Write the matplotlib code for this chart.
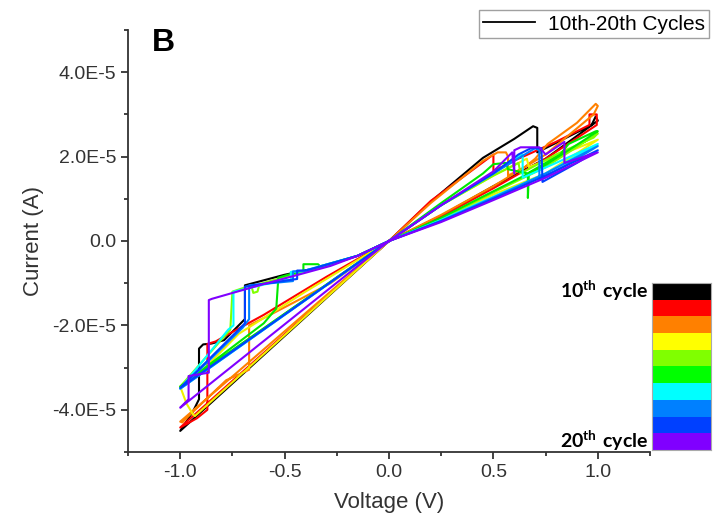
import matplotlib
matplotlib.use("Agg")
import matplotlib.pyplot as plt
from matplotlib.lines import Line2D
from matplotlib.colors import ListedColormap
from matplotlib.ticker import MultipleLocator, FuncFormatter
import numpy as np

plt.rcParams['font.family'] = ['Liberation Sans', 'DejaVu Sans']
plt.rcParams['mathtext.fontset'] = 'custom'
plt.rcParams['mathtext.bf'] = 'Lato:bold'
plt.rcParams['mathtext.rm'] = 'Lato'

# one colour per cycle, 10th (black) -> 20th (violet)
cycle_colors = ['#000000', '#ff0000', '#ff8000', '#f0f000', '#80ff00',
                '#00e800', '#00ffff', '#0080ff', '#0040ff', '#8000ff']
key_colors = ['#000000', '#ff0000', '#ff8000', '#ffff00', '#80ff00',
              '#00ff00', '#00ffff', '#0080ff', '#0040ff', '#8000ff']

# current values are in units of 1e-5 A
i_scale = 1e-5

# positive half: 0 -> +1 V (reset step) and back to 0
pos_v = [
    [0, 0.2, 0.45, 0.6, 0.69, 0.71, 0.71, 0.85, 0.97, 0.99, 1.0, 0.75, 0.5, 0.25, 0],
    [0, 0.2, 0.5, 0.5, 0.62, 0.8, 0.96, 0.96, 0.995, 0.995, 0.75, 0.5, 0.25, 0],
    [0, 0.2, 0.45, 0.52, 0.56, 0.57, 0.57, 0.65, 0.7, 0.76, 0.9, 0.97, 0.99, 1.0, 0.98, 0.75, 0.5, 0.25, 0],
    [0, 0.25, 0.5, 0.66, 0.67, 0.85, 1.0, 0.75, 0.5, 0.25, 0],
    [0, 0.25, 0.5, 0.62, 0.63, 0.8, 0.98, 1.0, 0.75, 0.5, 0.25, 0],
    [0, 0.25, 0.45, 0.5, 0.56, 0.57, 0.665, 0.665, 0.67, 0.82, 0.86, 0.99, 1.0, 0.75, 0.5, 0.25, 0],
    [0, 0.25, 0.5, 0.6, 0.64, 0.64, 0.8, 1.0, 0.75, 0.5, 0.25, 0],
    [0, 0.25, 0.5, 0.65, 0.7, 0.72, 0.72, 0.85, 1.0, 0.75, 0.5, 0.25, 0],
    [0, 0.25, 0.5, 0.62, 0.68, 0.73, 0.735, 0.9, 1.0, 0.75, 0.5, 0.25, 0],
    [0, 0.25, 0.5, 0.59, 0.6, 0.6, 0.63, 0.72, 0.75, 0.84, 0.84, 1.0, 0.75, 0.5, 0.25, 0],
]
pos_i = [
    [0, 0.93, 1.97, 2.42, 2.72, 2.68, 2.1, 2.45, 2.75, 2.95, 2.85, 1.95, 1.3, 0.6, 0],
    [0, 0.95, 2.05, 1.66, 1.95, 2.35, 2.75, 3.0, 3.0, 2.75, 1.95, 1.25, 0.58, 0],
    [0, 0.9, 1.9, 2.1, 2.1, 2.0, 1.55, 1.75, 1.95, 2.3, 2.8, 3.15, 3.25, 3.2, 3.0, 2.05, 1.3, 0.62, 0],
    [0, 0.85, 1.55, 1.95, 1.75, 2.1, 2.4, 1.6, 1.1, 0.5, 0],
    [0, 0.85, 1.55, 1.85, 1.6, 2.05, 2.45, 2.55, 1.75, 1.15, 0.52, 0],
    [0, 0.9, 1.6, 1.82, 1.85, 1.7, 1.6, 1.02, 1.62, 2.05, 2.3, 2.6, 2.6, 1.8, 1.18, 0.55, 0],
    [0, 0.85, 1.6, 1.95, 2.05, 1.5, 1.85, 2.3, 1.6, 1.05, 0.5, 0],
    [0, 0.85, 1.6, 2.05, 2.2, 2.15, 1.45, 1.8, 2.25, 1.6, 1.03, 0.48, 0],
    [0, 0.85, 1.6, 2.05, 2.2, 2.2, 1.4, 1.85, 2.15, 1.55, 1.0, 0.47, 0],
    [0, 0.85, 1.65, 2.1, 1.6, 2.15, 2.22, 2.22, 2.05, 2.35, 1.85, 2.1, 1.5, 0.97, 0.45, 0],
]

# negative half: 0 -> -1 V (set steps) and straight back to 0
neg_v = [
    [0, -0.15, -0.3, -0.5, -0.69, -0.69, -0.73, -0.79, -0.85, -0.89, -0.91, -0.91, -0.94, -1.0, 0],
    [0, -0.3, -0.6, -0.785, -0.83, -0.87, -0.87, -0.92, -1.0, 0],
    [0, -0.28, -0.55, -0.67, -0.67, -0.78, -0.95, -0.99, -1.0, 0],
    [0, -0.4, -0.72, -0.9, -0.97, -1.0, -0.97, -0.94, -0.93, 0],
    [0, -0.15, -0.35, -0.62, -0.63, -0.65, -0.66, -0.75, -0.76, -1.0, 0],
    [0, -0.15, -0.33, -0.34, -0.41, -0.41, -0.47, -0.53, -0.54, -0.6, -1.0, 0],
    [0, -0.15, -0.39, -0.40, -0.47, -0.47, -0.5, -0.745, -0.745, -0.77, -1.0, 0],
    [0, -0.15, -0.39, -0.46, -0.46, -0.67, -0.67, -0.7, -1.0, 0],
    [0, -0.15, -0.4, -0.44, -0.44, -0.69, -0.69, -0.72, -1.0, 0],
    [0, -0.15, -0.28, -0.45, -0.6, -0.848, -0.863, -0.863, -0.9, -0.96, -0.96, -0.99, -1.0, 0],
]
neg_i = [
    [0, -0.35, -0.59, -0.8, -1.05, -1.85, -2.05, -2.35, -2.43, -2.45, -2.55, -3.75, -4.05, -4.5, 0],
    [0, -0.85, -1.75, -2.25, -2.38, -2.44, -4.0, -4.2, -4.42, 0],
    [0, -1.0, -1.7, -2.0, -3.05, -3.3, -4.1, -4.3, -4.28, 0],
    [0, -1.2, -2.2, -3.1, -3.4, -3.45, -3.85, -4.1, -4.15, 0],
    [0, -0.35, -0.65, -1.02, -1.2, -1.23, -1.05, -1.2, -2.1, -3.45, 0],
    [0, -0.35, -0.6, -0.55, -0.55, -0.7, -0.78, -0.87, -1.6, -1.95, -3.45, 0],
    [0, -0.35, -0.68, -0.72, -0.73, -0.93, -0.92, -1.2, -2.0, -2.1, -3.5, 0],
    [0, -0.35, -0.7, -0.72, -0.95, -1.05, -1.85, -2.05, -3.5, 0],
    [0, -0.35, -0.7, -0.7, -0.9, -1.08, -1.95, -2.1, -3.48, 0],
    [0, -0.35, -0.59, -0.82, -1.02, -1.37, -1.4, -3.12, -3.15, -3.2, -3.75, -3.9, -3.95, 0],
]

fig = plt.figure(figsize=(7.2, 5.27), dpi=100)
ax = fig.add_axes([0.1778, 0.1423, 0.725, 0.8008])

for k in range(len(cycle_colors)):
    c = cycle_colors[k]
    ax.plot(pos_v[k], np.array(pos_i[k]) * i_scale, color=c, lw=1.5)
    ax.plot(neg_v[k], np.array(neg_i[k]) * i_scale, color=c, lw=1.5)

ax.set_xlim(-1.25, 1.25)
ax.set_ylim(-5e-5, 5e-5)
ax.spines['top'].set_visible(False)
ax.spines['right'].set_visible(False)
for s in ['left', 'bottom']:
    ax.spines[s].set_linewidth(1.3)
    ax.spines[s].set_color('#333333')

ax.xaxis.set_major_locator(MultipleLocator(0.5))
ax.xaxis.set_minor_locator(MultipleLocator(0.25))
ax.yaxis.set_major_locator(MultipleLocator(2e-5))
ax.yaxis.set_minor_locator(MultipleLocator(1e-5))
ax.xaxis.set_major_formatter(FuncFormatter(lambda v, p: '%.1f' % v))


def yfmt(v, p):
    if abs(v) < 1e-12:
        return '0.0'
    return ('%.1E' % v).replace('E-0', 'E-')


ax.yaxis.set_major_formatter(FuncFormatter(yfmt))
ax.tick_params(which='major', length=5, width=1.3, color='#333333',
               labelsize=14, labelcolor='#333333')
ax.tick_params(which='minor', length=3, width=1.3, color='#333333')
ax.set_xlabel('Voltage (V)', fontsize=16, color='#333333', labelpad=8)
ax.set_ylabel('Current (A)', fontsize=16, color='#333333', labelpad=6)

ax.text(0.067, 1.005, 'B', transform=ax.transAxes, fontsize=23,
        fontweight='bold', va='top', ha='center')

leg_handle = Line2D([], [], color='black', lw=1.3)
fig.legend([leg_handle], ['10th-20th Cycles'], loc='upper right',
           bbox_to_anchor=(0.999, 1.0), fontsize=15, frameon=True,
           fancybox=False, edgecolor='#888888', borderpad=0.2,
           handlelength=2.5, handletextpad=0.6)

# colour key for cycles
cax = fig.add_axes([652 / 720, 1 - 450 / 527, 59 / 720, 167 / 527])
cax.imshow(np.arange(len(key_colors)).reshape(-1, 1),
           cmap=ListedColormap(key_colors), aspect='auto',
           interpolation='nearest')
cax.set_xticks([])
cax.set_yticks([])
for s in cax.spines.values():
    s.set_color('#aaaaaa')
    s.set_linewidth(0.8)

fig.text(648 / 720, 1 - 291 / 527, r'$\mathbf{10^{th}\ cycle}$', fontsize=14,
         ha='right', va='center')
fig.text(648 / 720, 1 - 441 / 527, r'$\mathbf{20^{th}\ cycle}$', fontsize=14,
         ha='right', va='center')

fig.savefig('out.png', dpi=100)
